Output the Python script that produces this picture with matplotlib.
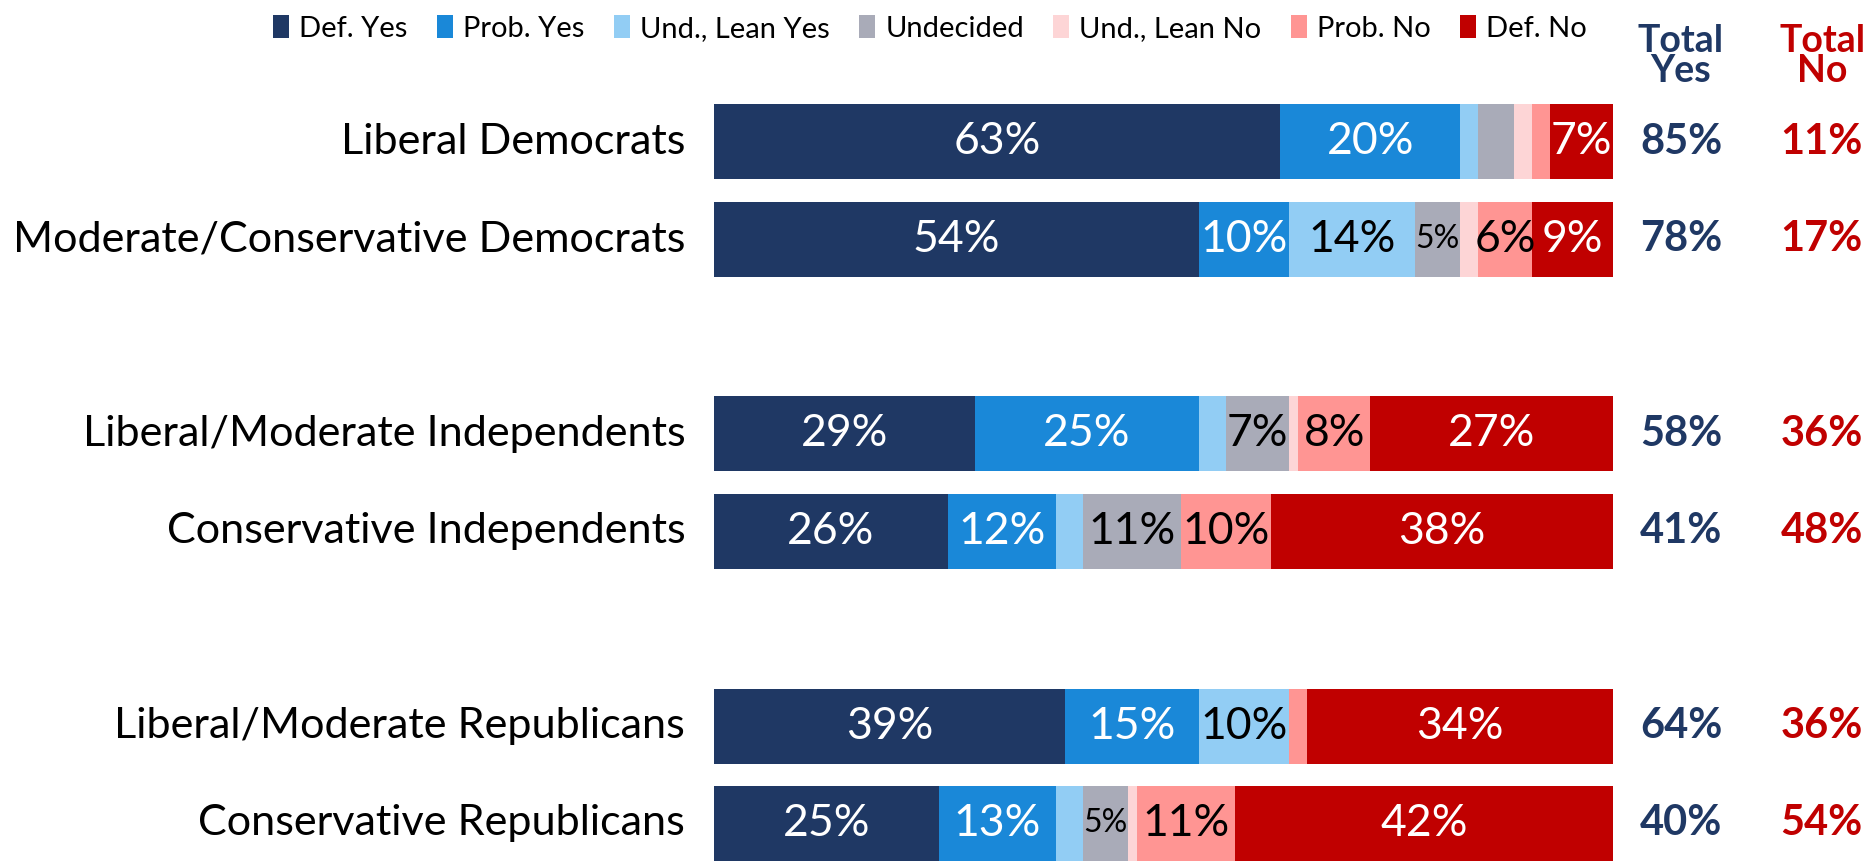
import matplotlib.pyplot as plt
import numpy as np

plt.rcParams['font.family'] = ['Lato', 'DejaVu Sans']

groups = ["Liberal Democrats", "Moderate/Conservative Democrats",
          "Liberal/Moderate Independents", "Conservative Independents",
          "Liberal/Moderate Republicans", "Conservative Republicans"]
rows = [0, 1, 3, 4, 6, 7]

series = ["Def. Yes", "Prob. Yes", "Und., Lean Yes", "Undecided",
          "Und., Lean No", "Prob. No", "Def. No"]
def_yes = [63, 54, 29, 26, 39, 25]
prob_yes = [20, 10, 25, 12, 15, 13]
lean_yes = [2, 14, 3, 3, 10, 3]
undecided = [4, 5, 7, 11, 0, 5]
lean_no = [2, 2, 1, 0, 0, 1]
prob_no = [2, 6, 8, 10, 2, 11]
def_no = [7, 9, 27, 38, 34, 42]
total_yes = [85, 78, 58, 41, 64, 40]
total_no = [11, 17, 36, 48, 36, 54]

colors = ["#1F3864", "#1A88D8", "#92CDF4", "#A9ABB8", "#FDD5D6", "#FF9593", "#C00000"]
text_colors = ["white", "white", "black", "black", "black", "black", "white"]
navy = "#1F3864"
red = "#C00000"

fig = plt.figure(figsize=(18.74, 8.65), dpi=100)
ax = fig.add_axes([0.381, 0.003, 0.4797, 0.8896])

data = [def_yes, prob_yes, lean_yes, undecided, lean_no, prob_no, def_no]
left = np.zeros(len(groups))
for vals, name, col, tcol in zip(data, series, colors, text_colors):
    vals = np.array(vals, dtype=float)
    ax.barh(rows, vals, left=left, height=0.77, color=col, label=name, linewidth=0)
    for r, l, v in zip(rows, left, vals):
        if v >= 5:
            fs = 23 if v < 6 else 32
            ax.text(l + v / 2, r, f"{int(v)}%", ha='center', va='center',
                    color=tcol, fontsize=fs)
    left += vals

for r, g, ty, tn in zip(rows, groups, total_yes, total_no):
    ax.text(-3.2, r, g, ha='right', va='center', fontsize=31.1, color='black')
    ax.text(107.6, r, f"{ty}%", ha='center', va='center', fontsize=30,
            fontweight='bold', color=navy, clip_on=False)
    ax.text(123.2, r, f"{tn}%", ha='center', va='center', fontsize=30,
            fontweight='bold', color=red, clip_on=False)

ax.set_xlim(0, 100)
ax.set_ylim(7.4, -0.5)
ax.axis('off')

fig.text(0.897, 0.935, "Total\nYes", ha='center', va='center', fontsize=27,
         fontweight='bold', color=navy, linespacing=0.85)
fig.text(0.9723, 0.935, "Total\nNo", ha='center', va='center', fontsize=27,
         fontweight='bold', color=red, linespacing=0.85)

fig.legend(loc='upper center', bbox_to_anchor=(930 / 1874, 1.003), ncol=7,
           frameon=False, fontsize=21, handlelength=0.55, handleheight=0.85,
           handletextpad=0.35, columnspacing=1.0, borderpad=0.1)

fig.savefig("out.png", dpi=100)
